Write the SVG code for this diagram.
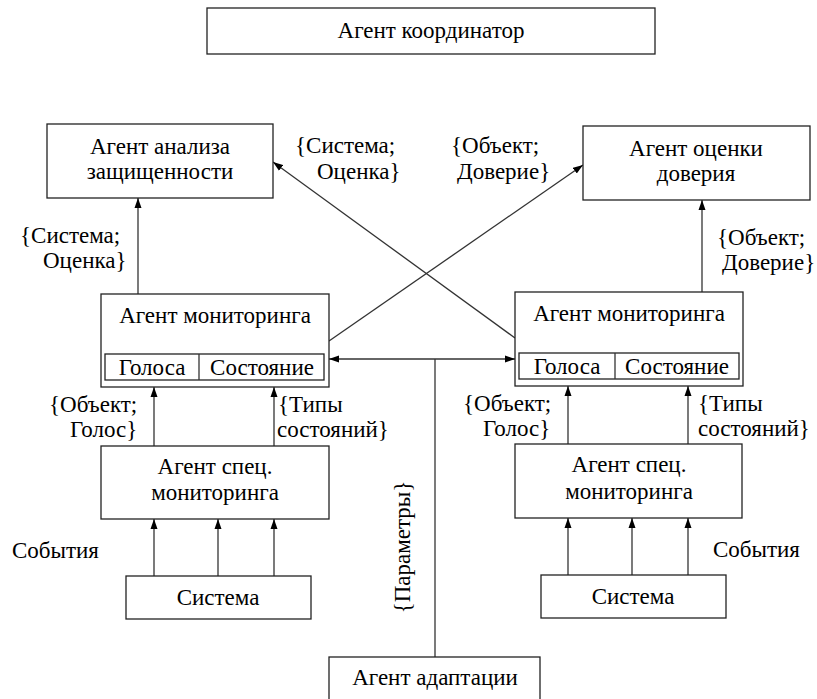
<svg xmlns="http://www.w3.org/2000/svg" width="817" height="699" viewBox="0 0 817 699">
<style>
text{font-family:'Liberation Serif','Times New Roman',serif;font-size:23px;fill:#000}
.c{text-anchor:middle}
.box{fill:#fff;stroke:#222;stroke-width:1.3}
.ln{fill:none;stroke:#333;stroke-width:1.3}
</style>
<defs>
<marker id="ah" markerUnits="userSpaceOnUse" markerWidth="10" markerHeight="8" refX="10" refY="4" orient="auto-start-reverse">
<path d="M0,0.5 L10,4 L0,7.5 z" fill="#000"/>
</marker>
</defs>
<rect width="817" height="699" fill="#fff"/>
<g id="connectors">
<line class="ln" x1="138" y1="294" x2="138" y2="198" marker-end="url(#ah)"/>
<line class="ln" x1="702" y1="292" x2="702" y2="200" marker-end="url(#ah)"/>
<line class="ln" x1="329" y1="341" x2="583" y2="165" marker-end="url(#ah)"/>
<line class="ln" x1="515" y1="338" x2="273" y2="162" marker-end="url(#ah)"/>
<line class="ln" x1="329" y1="359" x2="515" y2="359" marker-start="url(#ah)" marker-end="url(#ah)"/>
<line class="ln" x1="435" y1="359" x2="435" y2="657"/>
<line class="ln" x1="154" y1="446" x2="154" y2="387" marker-end="url(#ah)"/>
<line class="ln" x1="274" y1="446" x2="274" y2="387" marker-end="url(#ah)"/>
<line class="ln" x1="568" y1="444" x2="568" y2="386" marker-end="url(#ah)"/>
<line class="ln" x1="688" y1="444" x2="688" y2="386" marker-end="url(#ah)"/>
<line class="ln" x1="154" y1="576" x2="154" y2="519" marker-end="url(#ah)"/>
<line class="ln" x1="218" y1="576" x2="218" y2="519" marker-end="url(#ah)"/>
<line class="ln" x1="274" y1="576" x2="274" y2="519" marker-end="url(#ah)"/>
<line class="ln" x1="568" y1="575" x2="568" y2="518" marker-end="url(#ah)"/>
<line class="ln" x1="632" y1="575" x2="632" y2="518" marker-end="url(#ah)"/>
<line class="ln" x1="688" y1="575" x2="688" y2="518" marker-end="url(#ah)"/>
</g>
<g id="labels">
<text x="295" y="153">{Система;</text>
<text x="317" y="179">Оценка}</text>
<text x="451" y="153">{Объект;</text>
<text x="457" y="179">Доверие}</text>
<text x="20" y="243">{Система;</text>
<text x="43" y="268">Оценка}</text>
<text x="717" y="245">{Объект;</text>
<text x="722" y="270">Доверие}</text>
<text x="49" y="412">{Объект;</text>
<text x="70" y="437">Голос}</text>
<text x="278" y="412">{Типы</text>
<text x="277" y="437">состояний}</text>
<text x="463" y="411">{Объект;</text>
<text x="483" y="436">Голос}</text>
<text x="698" y="411">{Типы</text>
<text x="698" y="436">состояний}</text>
<text x="12" y="558">События</text>
<text x="713" y="557">События</text>
<text class="c" transform="translate(410,547) rotate(-90)">{Параметры}</text>
</g>
<g id="coordinator">
<rect class="box" x="207" y="8" width="448" height="46"/>
<text class="c" x="431" y="38">Агент координатор</text>
</g>
<g id="analysis">
<rect class="box" x="47" y="124" width="226" height="74"/>
<text class="c" x="160" y="154">Агент анализа</text>
<text class="c" x="160" y="179">защищенности</text>
</g>
<g id="trust">
<rect class="box" x="583" y="126" width="227" height="74"/>
<text class="c" x="696" y="156">Агент оценки</text>
<text class="c" x="696" y="181">доверия</text>
</g>
<g id="monitor-left">
<rect class="box" x="101" y="294" width="228" height="93"/>
<text class="c" x="215" y="323">Агент мониторинга</text>
<rect class="box" x="105" y="354" width="219" height="26"/>
<line class="ln" x1="199" y1="354" x2="199" y2="380"/>
<text class="c" x="152" y="375">Голоса</text>
<text class="c" x="262" y="375">Состояние</text>
</g>
<g id="monitor-right">
<rect class="box" x="515" y="292" width="228" height="94"/>
<text class="c" x="629" y="321">Агент мониторинга</text>
<rect class="box" x="519" y="353" width="220" height="26"/>
<line class="ln" x1="615" y1="353" x2="615" y2="379"/>
<text class="c" x="567" y="374">Голоса</text>
<text class="c" x="677" y="374">Состояние</text>
</g>
<g id="spec-left">
<rect class="box" x="101" y="446" width="228" height="73"/>
<text class="c" x="215" y="474">Агент спец.</text>
<text class="c" x="215" y="500">мониторинга</text>
</g>
<g id="spec-right">
<rect class="box" x="515" y="444" width="227" height="74"/>
<text class="c" x="629" y="472">Агент спец.</text>
<text class="c" x="629" y="499">мониторинга</text>
</g>
<g id="system-left">
<rect class="box" x="126" y="576" width="185" height="43"/>
<text class="c" x="218" y="605">Система</text>
</g>
<g id="system-right">
<rect class="box" x="541" y="575" width="185" height="43"/>
<text class="c" x="633" y="604">Система</text>
</g>
<g id="adaptation">
<rect class="box" x="329" y="657" width="211" height="46"/>
<text class="c" x="435" y="685">Агент адаптации</text>
</g>
</svg>
